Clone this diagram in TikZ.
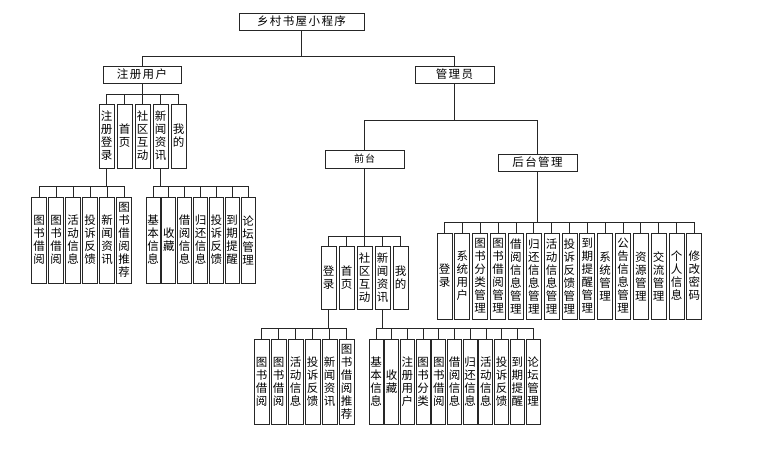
\documentclass[tikz,border=0pt]{standalone}
\usepackage{fontspec}
\setmainfont{Noto Sans CJK SC}
\usetikzlibrary{positioning}
\tikzset{
hb/.style={rectangle,draw=black!85,line width=0.9pt,minimum width=78pt,minimum height=17pt,inner sep=0pt,font=\fontsize{11.5}{13}\selectfont\addfontfeature{LetterSpace=12}},
vb/.style={rectangle,draw=black!85,line width=0.9pt,minimum width=15pt,inner sep=0pt,align=center,font=\fontsize{11.5}{13}\selectfont},
tree/.style={draw=black!85,line width=0.8pt},
}
\begin{document}
\begin{tikzpicture}[x=1pt,y=-1pt]
	\useasboundingbox (0,0) rectangle (764,455);

	\node[hb,minimum width=125pt] (root) at (301.5,21.5) {乡村书屋小程序};
	\node[hb] (user) at (142,74.5) {注册用户};
	\node[hb,minimum width=79pt] (admin) at (454.5,74.5) {管理员};
	\node[hb,minimum width=79pt,minimum height=18pt,font=\fontsize{10}{11}\selectfont\addfontfeature{LetterSpace=10}] (front) at (364.5,159) {前台};
	\node[hb,minimum width=79pt] (back) at (537.5,162.5) {后台管理};

	% registered user side
	\foreach \t [count=\i] in {注\\册\\登\\录, 首\\页, 社\\区\\互\\动, 新\\闻\\资\\讯, 我\\的}
		\node[vb,minimum height=64pt] (u\i) at ({88.5+18*\i},136) {\t};
	\foreach \t [count=\i] in {图\\书\\借\\阅, 图\\书\\借\\阅, 活\\动\\信\\息, 投\\诉\\反\\馈, 新\\闻\\资\\讯, 图\\书\\借\\阅\\推\\荐}
		\node[vb,minimum height=86pt] (a\i) at ({22+17*\i},240) {\t};
	\foreach \t [count=\i] in {基\\本\\信\\息, 收\\藏, 借\\阅\\信\\息, 归\\还\\信\\息, 投\\诉\\反\\馈, 到\\期\\提\\醒, 论\\坛\\管\\理}
		\node[vb,minimum width=14pt,minimum height=86pt] (b\i) at ({137.2+15.83*\i},240) {\t};

	% front end
	\foreach \t [count=\i] in {登\\录, 首\\页, 社\\区\\互\\动, 新\\闻\\资\\讯, 我\\的}
		\node[vb,minimum height=63pt] (f\i) at ({310.5+18*\i},277.5) {\t};
	\foreach \t [count=\i] in {图\\书\\借\\阅, 图\\书\\借\\阅, 活\\动\\信\\息, 投\\诉\\反\\馈, 新\\闻\\资\\讯, 图\\书\\借\\阅\\推\\荐}
		\node[vb,minimum height=85pt] (c\i) at ({244.5+17*\i},381.5) {\t};
	\foreach \t [count=\i] in {基\\本\\信\\息, 收\\藏, 注\\册\\用\\户, 图\\书\\分\\类, 图\\书\\借\\阅, 借\\阅\\信\\息, 归\\还\\信\\息, 活\\动\\信\\息, 投\\诉\\反\\馈, 到\\期\\提\\醒, 论\\坛\\管\\理}
		\node[vb,minimum width=14pt,minimum height=85pt] (d\i) at ({360.3+15.7*\i},381.5) {\t};

	% back end
	\foreach \t [count=\i] in {登\\录, 系\\统\\用\\户, 图\\书\\分\\类\\管\\理, 图\\书\\借\\阅\\管\\理, 借\\阅\\信\\息\\管\\理, 归\\还\\信\\息\\管\\理, 活\\动\\信\\息\\管\\理, 投\\诉\\反\\馈\\管\\理, 到\\期\\提\\醒\\管\\理, 系\\统\\管\\理, 公\\告\\信\\息\\管\\理, 资\\源\\管\\理, 交\\流\\管\\理, 个\\人\\信\\息, 修\\改\\密\\码}
		\node[vb,minimum height=86pt] (e\i) at ({426.65+17.85*\i},276) {\t};

	\draw[tree] (root.south) -- ++(0,25.7) -| (user.north);
	\draw[tree] (root.south) -- ++(0,25.7) -| (admin.north);
	\draw[tree] (admin.south) -- ++(0,37) -| (front.north);
	\draw[tree] (admin.south) -- ++(0,37) -| (back.north);
	\foreach \i in {1,...,5} {
		\draw[tree] (user.south) -- ++(0,10.7) -| (u\i.north);
		\draw[tree] (front.south) -- ++(0,68) -| (f\i.north);
	}
	\foreach \i in {1,...,6} {
		\draw[tree] (u1.south) -- ++(0,18) -| (a\i.north);
		\draw[tree] (f1.south) -- ++(0,19) -| (c\i.north);
	}
	\foreach \i in {1,...,7}
		\draw[tree] (u4.south) -- ++(0,18) -| (b\i.north);
	\foreach \i in {1,...,11}
		\draw[tree] (f4.south) -- ++(0,19) -| (d\i.north);
	\foreach \i in {1,...,15}
		\draw[tree] (back.south) -- ++(0,51) -| (e\i.north);
\end{tikzpicture}
\end{document}
